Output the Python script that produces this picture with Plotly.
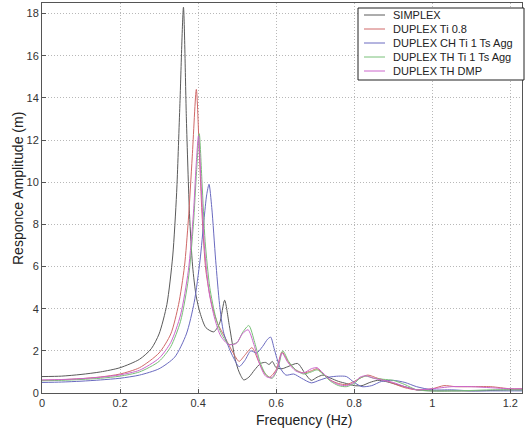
import plotly.graph_objects as go

# ---- data ----
simplex_x = [0, 0.05, 0.1, 0.15, 0.2, 0.25, 0.28, 0.3, 0.32, 0.335, 0.345, 0.353, 0.3625, 0.37, 0.378, 0.386, 0.395, 0.405, 0.42, 0.44, 0.455, 0.468, 0.48, 0.495, 0.505, 0.517, 0.53, 0.545, 0.56, 0.573, 0.582, 0.59, 0.6, 0.615, 0.63, 0.655, 0.675, 0.69, 0.705, 0.72, 0.74, 0.76, 0.78, 0.8, 0.82, 0.84, 0.86, 0.88, 0.9, 0.93, 0.96, 1.0, 1.05, 1.1, 1.15, 1.2, 1.23]
simplex_y = [0.78, 0.8, 0.88, 1.0, 1.2, 1.6, 2.1, 2.8, 4.2, 6.5, 9.5, 13.5, 18.3, 13.0, 8.5, 6.0, 4.6, 3.8, 3.1, 2.9, 3.3, 4.4, 3.2, 1.6, 1.0, 0.62, 0.75, 1.1, 1.4, 1.45, 1.35, 1.5, 1.2, 1.15, 1.25, 1.4, 0.9, 0.6, 0.75, 0.85, 0.7, 0.55, 0.45, 0.35, 0.35, 0.5, 0.6, 0.55, 0.45, 0.3, 0.15, 0.1, 0.1, 0.1, 0.12, 0.15, 0.15]

red_x = [0, 0.05, 0.1, 0.15, 0.2, 0.25, 0.3, 0.33, 0.35, 0.365, 0.375, 0.385, 0.3955, 0.403, 0.41, 0.42, 0.435, 0.45, 0.47, 0.49, 0.505, 0.52, 0.538, 0.555, 0.57, 0.583, 0.6, 0.615, 0.63, 0.65, 0.67, 0.69, 0.705, 0.72, 0.74, 0.76, 0.78, 0.8, 0.82, 0.835, 0.86, 0.88, 0.9, 0.93, 0.96, 1.0, 1.03, 1.06, 1.1, 1.15, 1.2, 1.23]
red_y = [0.6, 0.63, 0.68, 0.76, 0.9, 1.2, 1.9, 2.8, 4.2, 6.0, 8.2, 11.2, 14.4, 11.5, 8.5, 5.8, 4.2, 3.3, 2.6, 1.9, 1.5, 1.8, 2.15, 1.5, 0.95, 0.75, 1.1, 1.95, 1.5, 1.1, 0.95, 1.05, 1.15, 0.9, 0.6, 0.45, 0.4, 0.55, 0.75, 0.85, 0.7, 0.6, 0.45, 0.25, 0.15, 0.2, 0.35, 0.3, 0.3, 0.3, 0.2, 0.2]

blue_x = [0, 0.05, 0.1, 0.15, 0.2, 0.25, 0.3, 0.34, 0.37, 0.39, 0.405, 0.415, 0.422, 0.428, 0.435, 0.445, 0.455, 0.465, 0.48, 0.49, 0.505, 0.52, 0.535, 0.55, 0.565, 0.578, 0.586, 0.595, 0.61, 0.625, 0.645, 0.665, 0.69, 0.71, 0.735, 0.76, 0.78, 0.8, 0.82, 0.845, 0.87, 0.9, 0.93, 0.96, 1.0, 1.05, 1.1, 1.15, 1.2, 1.23]
blue_y = [0.5, 0.52, 0.56, 0.62, 0.7, 0.85, 1.15, 1.7, 2.8, 4.3, 6.3, 8.2, 9.4, 9.9, 8.8, 6.3, 4.2, 2.9, 2.1, 1.7, 1.25, 1.55, 2.0, 1.9, 2.2, 2.55, 2.65, 2.1, 1.2, 0.85, 0.9, 0.7, 0.48, 0.6, 0.75, 0.8, 0.78, 0.5, 0.3, 0.35, 0.55, 0.6, 0.5, 0.3, 0.15, 0.15, 0.1, 0.1, 0.1, 0.1]

green_x = [0, 0.05, 0.1, 0.15, 0.2, 0.25, 0.3, 0.33, 0.355, 0.375, 0.388, 0.396, 0.403, 0.41, 0.418, 0.43, 0.445, 0.46, 0.48, 0.5, 0.515, 0.53, 0.545, 0.56, 0.575, 0.59, 0.605, 0.617, 0.632, 0.65, 0.67, 0.69, 0.705, 0.72, 0.74, 0.76, 0.78, 0.8, 0.815, 0.83, 0.85, 0.875, 0.9, 0.93, 0.96, 1.0, 1.05, 1.1, 1.15, 1.2, 1.23]
green_y = [0.58, 0.6, 0.64, 0.7, 0.8, 1.0, 1.5, 2.2, 3.4, 5.4, 8.0, 10.5, 12.3, 10.0, 7.2, 5.0, 3.6, 2.8, 2.3, 2.4, 2.9, 3.2, 2.4, 1.4, 0.85, 0.7, 1.2, 2.0, 1.5, 1.1, 0.9, 1.0, 1.1, 0.9, 0.55, 0.35, 0.3, 0.45, 0.7, 0.8, 0.7, 0.65, 0.6, 0.4, 0.15, 0.1, 0.1, 0.12, 0.15, 0.15, 0.15]

mag_x = [0, 0.05, 0.1, 0.15, 0.2, 0.25, 0.3, 0.33, 0.355, 0.375, 0.388, 0.395, 0.401, 0.408, 0.416, 0.428, 0.443, 0.458, 0.478, 0.498, 0.513, 0.528, 0.543, 0.558, 0.573, 0.588, 0.603, 0.615, 0.63, 0.65, 0.67, 0.69, 0.705, 0.72, 0.74, 0.76, 0.78, 0.8, 0.815, 0.83, 0.85, 0.875, 0.9, 0.93, 0.96, 1.0, 1.05, 1.1, 1.15, 1.2, 1.23]
mag_y = [0.62, 0.64, 0.68, 0.75, 0.86, 1.08, 1.65, 2.4, 3.7, 5.8, 8.5, 10.8, 12.2, 9.8, 7.0, 4.8, 3.5, 2.7, 2.3, 2.35, 2.8, 3.0, 2.3, 1.35, 0.8, 0.72, 1.15, 1.9, 1.45, 1.05, 0.95, 1.15, 1.2, 0.95, 0.6, 0.4, 0.35, 0.5, 0.75, 0.82, 0.7, 0.6, 0.5, 0.3, 0.15, 0.2, 0.3, 0.3, 0.25, 0.2, 0.2]

names = ["SIMPLEX", "DUPLEX Ti 0.8", "DUPLEX CH Ti 1 Ts Agg", "DUPLEX TH Ti 1 Ts Agg", "DUPLEX TH DMP"]
colors = ["#5a5a5a", "#d06868", "#6a6ac0", "#78c078", "#cc66cc"]

x_ticks = [0, 0.2, 0.4, 0.6, 0.8, 1.0, 1.2]
x_tick_labels = ["0", "0.2", "0.4", "0.6", "0.8", "1", "1.2"]
y_ticks = [0, 2, 4, 6, 8, 10, 12, 14, 16, 18]

series = [(simplex_x, simplex_y), (red_x, red_y), (blue_x, blue_y), (green_x, green_y), (mag_x, mag_y)]

W, H = 526, 433
ML, MR, MT, MB = 42, 4, 3, 40
PW, PH = W - ML - MR, H - MT - MB


def px(xp):
    return (xp - ML) / PW


def py(yp):
    return (H - MB - yp) / PH


fig = go.Figure()
for (xs, ys), n, c in zip(series, names, colors):
    fig.add_trace(go.Scatter(x=xs, y=ys, name=n, mode="lines", showlegend=False,
                             line=dict(color=c, width=1, shape="spline", smoothing=0.7)))

font = "Liberation Sans, Arial, sans-serif"

# manual legend (compact, like the original)
shapes = [dict(type="rect", xref="paper", yref="paper",
               x0=px(358), x1=px(524), y0=py(80), y1=py(8),
               line=dict(color="#222", width=1), fillcolor="white", layer="above")]
annotations = []
for i, (n, c) in enumerate(zip(names, colors)):
    yc = 15 + 14 * i
    shapes.append(dict(type="line", xref="paper", yref="paper",
                       x0=px(364), x1=px(385), y0=py(yc), y1=py(yc),
                       line=dict(color=c, width=1), layer="above"))
    annotations.append(dict(text=n, xref="paper", yref="paper", x=px(391), y=py(yc),
                            xanchor="left", yanchor="middle", showarrow=False,
                            font=dict(size=11, color="#222", family=font)))

annotations.append(dict(text="Frequency (Hz)", xref="paper", yref="paper",
                        x=px(304), y=py(420), xanchor="center", yanchor="middle",
                        showarrow=False, font=dict(size=14, color="#222", family=font)))
annotations.append(dict(text="Responce Amplitude (m)", xref="paper", yref="paper",
                        x=px(18), y=py(189), xanchor="center", yanchor="middle",
                        textangle=-90, showarrow=False,
                        font=dict(size=14, color="#222", family=font)))

fig.update_layout(
    width=W, height=H,
    margin=dict(l=ML, r=MR, t=MT, b=MB, autoexpand=False),
    paper_bgcolor="white", plot_bgcolor="white",
    font=dict(family=font, size=11, color="#333"),
    showlegend=False,
    shapes=shapes, annotations=annotations,
    xaxis=dict(range=[0, 1.23], tickvals=x_ticks, ticktext=x_tick_labels,
               showgrid=True, gridcolor="#b8b8b8", griddash="1px,2px", gridwidth=1,
               showline=True, linecolor="#555", mirror=True, ticks="inside", ticklen=4,
               tickcolor="#555", zeroline=False, automargin=False,
               tickfont=dict(size=11, color="#333")),
    yaxis=dict(range=[0, 18.5], tickvals=y_ticks,
               showgrid=True, gridcolor="#b8b8b8", griddash="1px,2px", gridwidth=1,
               showline=True, linecolor="#555", mirror=True, ticks="inside", ticklen=4,
               tickcolor="#555", zeroline=False, automargin=False,
               tickfont=dict(size=11, color="#333")),
)

fig.write_html("out.html", config={"displayModeBar": False},
               post_script="document.body.style.margin='0';document.body.style.overflow='hidden';")
